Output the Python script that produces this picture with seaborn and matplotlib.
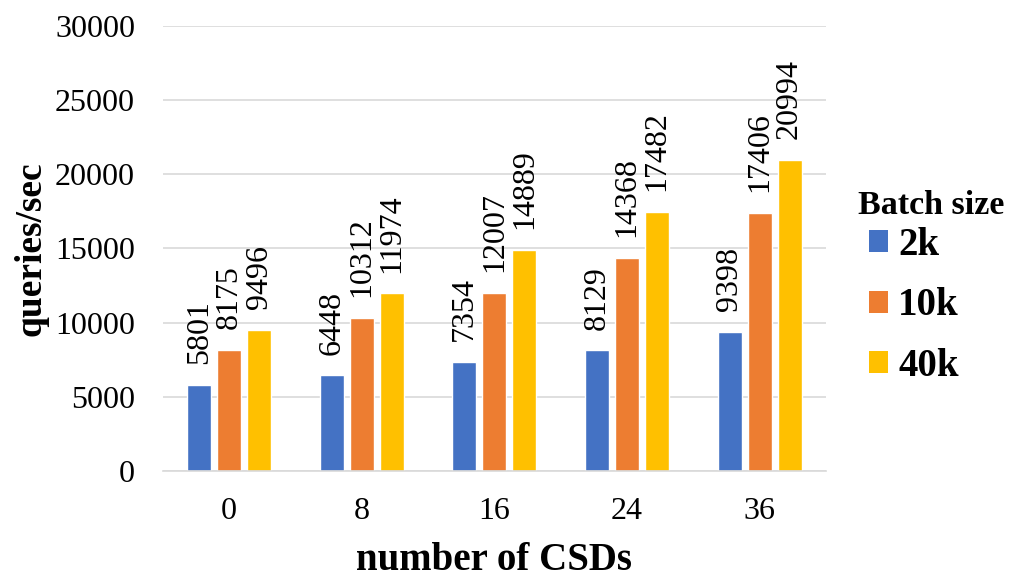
import matplotlib
matplotlib.use("Agg")
import matplotlib.pyplot as plt
import seaborn as sns
import pandas as pd
from matplotlib.patches import Patch

csds = ["0", "8", "16", "24", "36"]
batch_sizes = ["2k", "10k", "40k"]
qps_2k = [5801, 6448, 7354, 8129, 9398]
qps_10k = [8175, 10312, 12007, 14368, 17406]
qps_40k = [9496, 11974, 14889, 17482, 20994]
colors = ["#4472C4", "#ED7D31", "#FFC000"]

rows = []
for size, vals in zip(batch_sizes, [qps_2k, qps_10k, qps_40k]):
    for c, v in zip(csds, vals):
        rows.append({"csds": c, "batch": size, "qps": v})
df = pd.DataFrame(rows)

sns.set_theme(style="white")
plt.rcParams["font.family"] = ["Liberation Serif", "DejaVu Serif"]
plt.rcParams["text.color"] = "black"

fig = plt.figure(figsize=(10.11, 5.77), dpi=100)
ax = fig.add_axes([0.161, 0.1837, 0.656, 0.7713])

sns.barplot(data=df, x="csds", y="qps", hue="batch", order=csds,
            hue_order=batch_sizes, palette=colors, width=0.677, gap=0.2,
            legend=False, ax=ax, saturation=1)

for cont in ax.containers:
    ax.bar_label(cont, fmt="%d", rotation=90, padding=15, fontsize=23,
                 color="black")

ax.set_ylim(0, 30000)
ax.set_yticks(range(0, 30001, 5000))
ax.yaxis.grid(True, color="#D9D9D9", linewidth=1.2)
ax.set_axisbelow(True)
for s in ["top", "right", "left"]:
    ax.spines[s].set_visible(False)
ax.spines["bottom"].set_color("#D9D9D9")
ax.spines["bottom"].set_linewidth(1.2)
ax.tick_params(axis="both", labelsize=23, length=0, colors="black")
ax.tick_params(axis="x", pad=19)
ax.tick_params(axis="y", pad=20)

ax.set_xlabel("number of CSDs", fontsize=28, fontweight="bold",
              labelpad=11, color="black")
ax.set_ylabel("queries/sec", fontsize=27, fontweight="bold",
              labelpad=5, color="black")

# legend: title as separate text so the entry spacing can be set freely
fig.text(858 / 1011, 1 - 205 / 577, "Batch size", fontsize=24.5,
         fontweight="bold", ha="left", va="center", color="black")
handles = [Patch(facecolor=c, edgecolor="none") for c in colors]
leg = fig.legend(handles, batch_sizes,
                 loc="center left", bbox_to_anchor=(869 / 1011, 1 - 306 / 577),
                 frameon=False, prop={"size": 28, "weight": "bold"},
                 handlelength=0.5, handleheight=0.5, handletextpad=0.25,
                 labelspacing=0.6, borderpad=0.0, borderaxespad=0.0)

fig.savefig("out.png", dpi=100)
